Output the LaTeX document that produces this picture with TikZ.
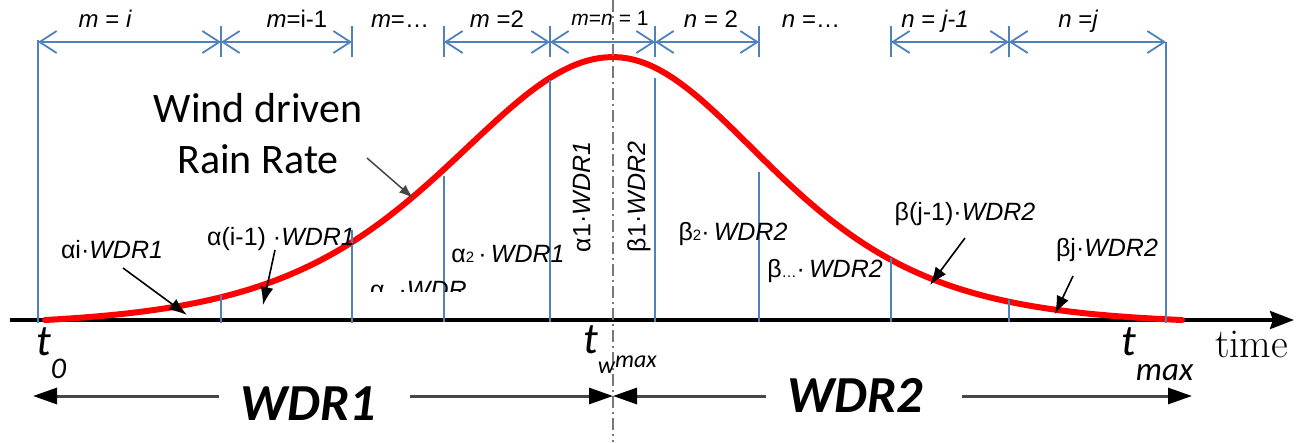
\documentclass[tikz,border=0pt]{standalone}
\usepackage{fontspec}
\usetikzlibrary{arrows.meta}
\newfontfamily\arl{Liberation Sans}
\newfontfamily\calib{Carlito}
\definecolor{dimblue}{RGB}{79,129,189}
\definecolor{dashgray}{RGB}{120,120,120}
\definecolor{botgray}{RGB}{70,70,70}
\begin{document}
\begin{tikzpicture}[x=1pt,y=-1pt,
  lab/.style={font=\arl\fontsize{25}{30}\selectfont, inner sep=0pt, anchor=base},
  toplab/.style={font=\arl\fontsize{24}{28}\selectfont, inner sep=0pt, anchor=base},
  bluev/.style={draw=dimblue, line width=1.4pt},
  dimline/.style={draw=dimblue, line width=1.8pt, {Straight Barb[length=17pt,width=22pt]}-{Straight Barb[length=17pt,width=22pt]}},
  ptr/.style={draw=black, line width=1.6pt, -{Latex[length=18pt,width=13pt]}},
  windptr/.style={draw=botgray, line width=1.5pt, -{Latex[length=14pt,width=10pt]}},
  botarrow/.style={draw=botgray, line width=3pt, -{Triangle[length=24pt,width=16pt,color=black]}},
  curve/.style={draw=red, line width=6pt, line cap=round, line join=round},
  tfont/.style={font=\calib\itshape\fontsize{44}{50}\selectfont, inner sep=0pt, anchor=base west},
  bigwdr/.style={font=\calib\bfseries\itshape\fontsize{52}{60}\selectfont, inner sep=0pt, anchor=base}
]
\useasboundingbox (0,0) rectangle (1312,442);

% time axis
\coordinate (ax0) at (10,320);
\coordinate (ax1) at (1294,320);
\draw[line width=3.5pt, -{Stealth[length=24pt,width=18pt,inset=3pt]}] (ax0) -- (ax1);

% red curve (wind driven rain rate)
\draw[curve] plot[domain=45:613, samples=150, smooth]
  (\x, {320 - 263*(1/(cosh((\x-613)/220)*cosh((\x-613)/220)) - 0.0226)/0.9774})
  -- plot[domain=613:1182, samples=150, smooth]
  (\x, {320 - 263*(1/(cosh((\x-613)/208)*cosh((\x-613)/208)) - 0.0167)/0.9833});

% blue verticals
\draw[bluev] (38,40) -- (38,323);
\draw[bluev] (1166,42) -- (1166,323);
\foreach \x in {221,352,444,550,655,759,891,1009}
  \draw[bluev] (\x,26) -- (\x,57);
\draw[bluev] (221,295) -- (221,323);
\draw[bluev] (352,230) -- (352,323);
\draw[bluev] (444,176) -- (444,322);
\draw[bluev] (550,80) -- (550,322);
\draw[bluev] (655,78) -- (655,322);
\draw[bluev] (759,172) -- (759,322);
\draw[bluev] (891,258) -- (891,322);
\draw[bluev] (1009,300) -- (1009,322);

% dimension arrows
\coordinate (d0) at (38,42);
\coordinate (d1) at (221,42);
\coordinate (d2) at (352,42);
\coordinate (d3) at (444,42);
\coordinate (d4) at (550,42);
\coordinate (d5) at (655,42);
\coordinate (d6) at (759,42);
\coordinate (d7) at (891,42);
\coordinate (d8) at (1009,42);
\coordinate (d9) at (1166,42);
\draw[dimline] (d0) -- (d1);
\draw[dimline] (d1) -- (d2);
\draw[dimline] (d3) -- (d4);
\draw[dimline] (d4) -- (d5);
\draw[dimline] (d5) -- (d6);
\draw[dimline] (d7) -- (d8);
\draw[dimline] (d8) -- (d9);

% top labels
\node[toplab] (lm1) at (105,27) {{\itshape m} = {\itshape i}};
\node[toplab] (lm2) at (297,27) {{\itshape m}=i-1};
\node[toplab] (lm3) at (400,27) {{\itshape m}=…};
\node[toplab] (lm4) at (497,27) {{\itshape m} =2};
\node[toplab, font=\arl\fontsize{21}{24}\selectfont] (lm5) at (610,25) {{\itshape m}={\itshape n} = 1};
\node[toplab] (ln2) at (711,27) {{\itshape n} = 2};
\node[toplab] (ln3) at (811,27) {{\itshape n} =…};
\node[toplab] (ln4) at (935,27) {{\itshape n} = {\itshape j-1}};
\node[toplab] (ln5) at (1078,27) {{\itshape n} ={\itshape j}};

% wind driven rain rate
\node[font=\calib\fontsize{42}{51}\selectfont, inner sep=0pt, align=center, anchor=base] (wind) at (258,173) {Wind driven\\Rain Rate};
\coordinate (w0) at (367,158);
\coordinate (w1) at (413,198);
\draw[windptr] (w0) -- (w1);

% alpha / beta labels
\node[lab] (ai) at (112,258) {αi·{\itshape WDR1}};
\node[lab] (aim) at (281,245) {α(i-1) ·{\itshape WDR1}};
\begin{scope}
\clip (360,260) rectangle (470,291);
\node[lab, anchor=base west] (adots) at (370,298) {α\hspace{14pt}·{\itshape WDR}};
\end{scope}
\node[lab] (a2) at (508,262) {α{\fontsize{15}{15}\selectfont 2}\,·\,{\itshape WDR1}};
\node[lab, anchor=center, rotate=90] (a1) at (582,197) {α1·{\itshape WDR1}};
\node[lab, anchor=center, rotate=90] (b1) at (639,197) {β1·{\itshape WDR2}};
\node[lab] (b2) at (733,240) {β{\fontsize{15}{15}\selectfont 2}·\,{\itshape WDR2}};
\node[lab] (bdots) at (825,277) {β{\fontsize{15}{15}\selectfont …}·\,{\itshape WDR2}};
\node[lab] (bjm) at (965,220) {β(j-1)·{\itshape WDR2}};
\node[lab] (bj) at (1107,256) {βj·{\itshape WDR2}};

% pointer arrows
\coordinate (p1a) at (123,268); \coordinate (p1b) at (187,315);
\coordinate (p2a) at (275,250); \coordinate (p2b) at (263,305);
\coordinate (p3a) at (965,238); \coordinate (p3b) at (930,285);
\coordinate (p4a) at (1073,276); \coordinate (p4b) at (1055,314);
\draw[ptr] (p1a) -- (p1b);
\draw[ptr] (p2a) -- (p2b);
\draw[ptr] (p3a) -- (p3b);
\draw[ptr] (p4a) -- (p4b);

% dash-dot line at t_wmax
\coordinate (c0) at (613,0);
\coordinate (c1) at (613,442);
\draw[dashgray, line width=1.8pt, dash pattern=on 12pt off 4pt on 2pt off 4pt] (c0) -- (c1);

% time labels
\node[tfont] (t0) at (36,355) {t\raisebox{-23pt}{\fontsize{30}{30}\selectfont 0}};
\node[tfont] (tw) at (583,353) {t\raisebox{-20pt}{\fontsize{24}{24}\selectfont w\raisebox{6pt}{max}}};
\node[tfont] (tm) at (1121,355) {t\raisebox{-25pt}{\fontsize{33}{33}\selectfont max}};
\node[font=\rmfamily\fontsize{41}{48}\selectfont, inner sep=0pt, anchor=base west] (time) at (1215,357) {time};

% WDR arrows
\node[bigwdr] (wdr1) at (308,420) {WDR1};
\node[bigwdr] (wdr2) at (855,412) {WDR2};
\coordinate (l0) at (33,396);
\coordinate (l1) at (219,396);
\coordinate (l2) at (410,396);
\coordinate (m0) at (613,396);
\coordinate (r1) at (766,396);
\coordinate (r2) at (962,396);
\coordinate (r3) at (1192,396);
\draw[botarrow] (l1) -- (l0);
\draw[botarrow] (l2) -- (m0);
\draw[botarrow] (r1) -- (m0);
\draw[botarrow] (r2) -- (r3);
\end{tikzpicture}
\end{document}
